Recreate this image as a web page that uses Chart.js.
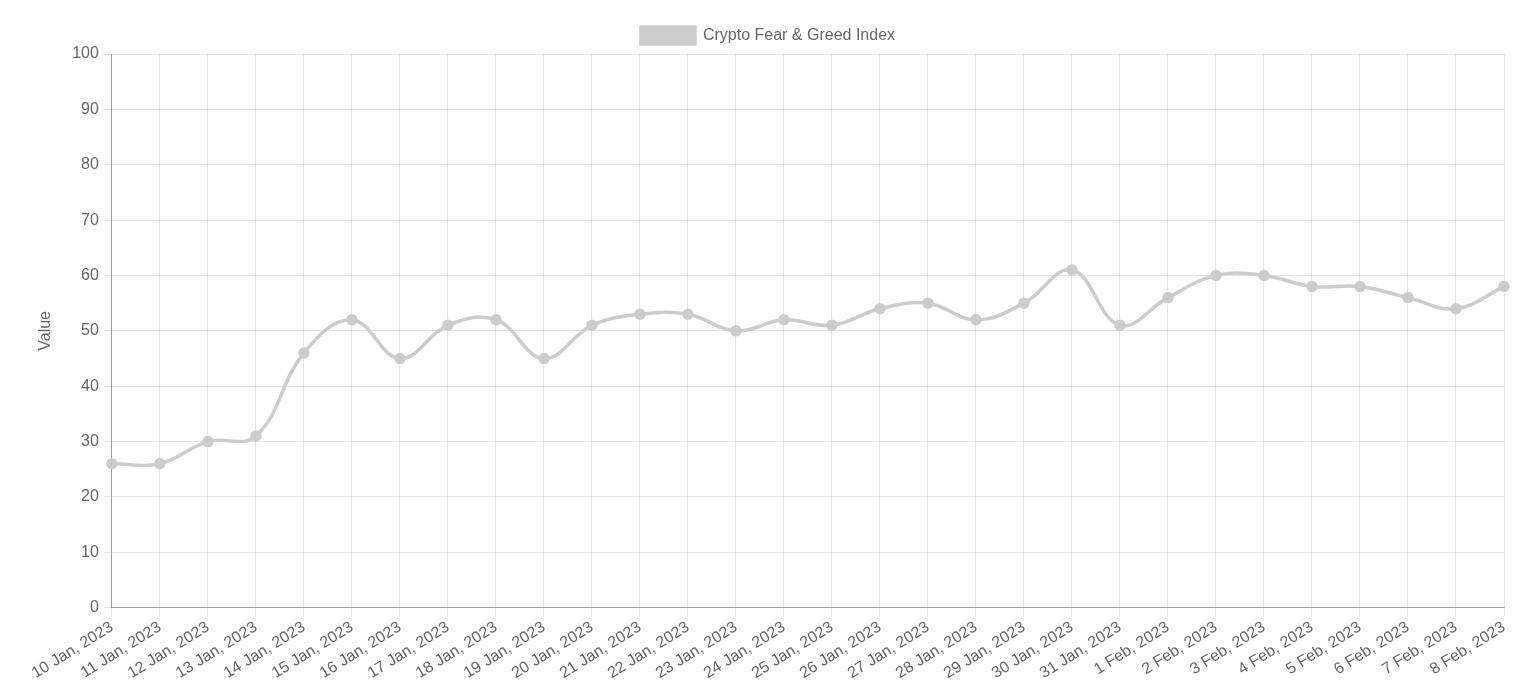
<!DOCTYPE html>
<html>
<head>
<meta charset="utf-8">
<title>Crypto Fear & Greed Index</title>
<script src="https://cdn.jsdelivr.net/npm/chart.js@4.4.1/dist/chart.umd.min.js"></script>
<style>
  html, body { margin: 0; padding: 0; background: #fff; }
  #wrap { width: 1536px; height: 686px; }
</style>
</head>
<body>
<div id="wrap"><canvas id="fngChart"></canvas></div>
<script>
// --- data ---
const dates = [
  '10 Jan, 2023', '11 Jan, 2023', '12 Jan, 2023', '13 Jan, 2023', '14 Jan, 2023',
  '15 Jan, 2023', '16 Jan, 2023', '17 Jan, 2023', '18 Jan, 2023', '19 Jan, 2023',
  '20 Jan, 2023', '21 Jan, 2023', '22 Jan, 2023', '23 Jan, 2023', '24 Jan, 2023',
  '25 Jan, 2023', '26 Jan, 2023', '27 Jan, 2023', '28 Jan, 2023', '29 Jan, 2023',
  '30 Jan, 2023', '31 Jan, 2023', '1 Feb, 2023', '2 Feb, 2023', '3 Feb, 2023',
  '4 Feb, 2023', '5 Feb, 2023', '6 Feb, 2023', '7 Feb, 2023', '8 Feb, 2023'
];
const fearGreed = [
  26, 26, 30, 31, 46,
  52, 45, 51, 52, 45,
  51, 53, 53, 50, 52,
  51, 54, 55, 52, 55,
  61, 51, 56, 60, 60,
  58, 58, 56, 54, 58
];
const yTicks = { min: 0, max: 100, step: 10 };

// --- draw ---
const grey = 'rgb(204, 204, 204)';
Chart.defaults.font.family = '"Liberation Sans", Arial, Helvetica, sans-serif';
Chart.defaults.font.size = 16;
Chart.defaults.color = '#666';

new Chart(document.getElementById('fngChart'), {
  type: 'line',
  data: {
    labels: dates,
    datasets: [{
      label: 'Crypto Fear & Greed Index',
      data: fearGreed,
      borderColor: grey,
      backgroundColor: grey,
      pointBackgroundColor: grey,
      pointBorderColor: grey,
      borderWidth: 3.5,
      pointRadius: 4,
      tension: 0.4,
      fill: false
    }]
  },
  options: {
    responsive: true,
    maintainAspectRatio: false,
    animation: false,
    layout: { padding: { left: 32, right: 32, top: 14, bottom: 1 } },
    plugins: {
      legend: {
        labels: { boxWidth: 54, boxHeight: 17, padding: 13 }
      },
      tooltip: { enabled: false }
    },
    scales: {
      x: {
        grid: { color: 'rgba(0,0,0,0.1)' },
        border: { color: 'rgba(0,0,0,0.3)' },
        ticks: { minRotation: 32, maxRotation: 32, autoSkip: false, padding: 2 }
      },
      y: {
        min: yTicks.min,
        max: yTicks.max,
        grid: { color: 'rgba(0,0,0,0.1)' },
        border: { color: 'rgba(0,0,0,0.3)' },
        ticks: { stepSize: yTicks.step, padding: 5 },
        title: { display: true, text: 'Value', padding: { top: 4, bottom: 12 } }
      }
    }
  }
});
</script>
</body>
</html>
